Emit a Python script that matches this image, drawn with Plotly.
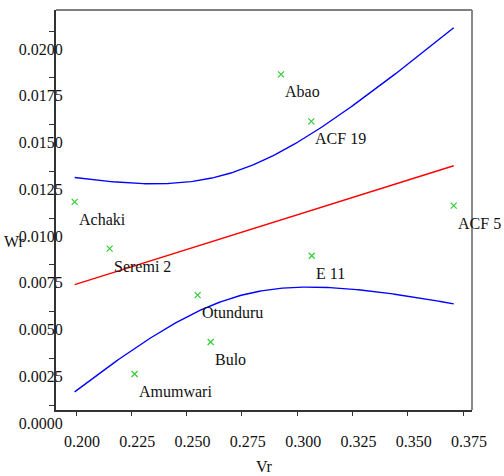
import numpy as np
import plotly.graph_objects as go

# Data
names = ["Achaki", "Seremi 2", "Amumwari", "Otunduru", "Bulo", "Abao", "ACF 19", "E 11", "ACF 5"]
vr = [0.1994, 0.2152, 0.2265, 0.2550, 0.2609, 0.2927, 0.3064, 0.3066, 0.3708]
wr = [0.01086, 0.00836, 0.00166, 0.00588, 0.00337, 0.01768, 0.01517, 0.00798, 0.01066]

x_ticks = [0.200, 0.225, 0.250, 0.275, 0.300, 0.325, 0.350, 0.375]
y_ticks = [0.0000, 0.0025, 0.0050, 0.0075, 0.0100, 0.0125, 0.0150, 0.0175, 0.0200]

# Least squares fit and 95% confidence band of the mean (derived from the data)
X = np.array(vr)
Y = np.array(wr)
n = len(X)
b1, b0 = np.polyfit(X, Y, 1)
resid = Y - (b0 + b1 * X)
s = np.sqrt(np.sum(resid ** 2) / (n - 2))
sxx = np.sum((X - X.mean()) ** 2)
xs = np.linspace(X.min(), X.max(), 200)
fit = b0 + b1 * xs
se = s * np.sqrt(1.0 / n + (xs - X.mean()) ** 2 / sxx)
upper = fit + 1.96 * se
lower = fit - 1.96 * se

SERIF = "Liberation Serif"
TXT = "#111"

fig = go.Figure()
fig.add_trace(go.Scatter(x=xs, y=upper, mode="lines", line=dict(color="#0000ff", width=1.4),
                         hoverinfo="skip", showlegend=False))
fig.add_trace(go.Scatter(x=xs, y=lower, mode="lines", line=dict(color="#0000ff", width=1.4),
                         hoverinfo="skip", showlegend=False))
fig.add_trace(go.Scatter(x=xs, y=fit, mode="lines", line=dict(color="#ff0000", width=1.4),
                         hoverinfo="skip", showlegend=False))
fig.add_trace(go.Scatter(x=vr, y=wr, mode="markers", text=names,
                         marker=dict(symbol="x-thin", size=6,
                                     line=dict(color="#33cc33", width=1.2), color="#33cc33"),
                         showlegend=False))

for nm, xv, yv in zip(names, vr, wr):
    fig.add_annotation(x=xv, y=yv, text=nm, showarrow=False, xanchor="left", yanchor="middle",
                       xshift=2, yshift=-17.5, font=dict(family=SERIF, size=16, color=TXT))

fig.add_annotation(xref="paper", yref="paper", x=-0.1, y=(410 - 241) / 400.0, text="Wr",
                   showarrow=False, xanchor="center", yanchor="middle",
                   font=dict(family=SERIF, size=16, color=TXT))
fig.add_annotation(xref="paper", yref="paper", x=0.5, y=-(466.7 - 410) / 400.0, text="Vr",
                   showarrow=False, xanchor="center", yanchor="middle",
                   font=dict(family=SERIF, size=16, color=TXT))

# top and right frame lines
fig.add_shape(type="line", xref="paper", yref="paper", x0=0, x1=1, y0=1, y1=1,
              line=dict(color="#555", width=1.6))
fig.add_shape(type="line", xref="paper", yref="paper", x0=1, x1=1, y0=0, y1=1,
              line=dict(color="#888", width=2))

fig.update_layout(
    width=504, height=476,
    margin=dict(l=56, r=32, t=10, b=66),
    paper_bgcolor="white", plot_bgcolor="white",
    font=dict(family=SERIF, size=16, color=TXT),
    xaxis=dict(range=[0.190956, 0.379072], tickvals=x_ticks, tickformat=".3f",
               showgrid=False, zeroline=False, showline=True, linecolor="#333", linewidth=2,
               ticks="outside", ticklen=4, tickcolor="#333", tickwidth=1.2,
               ticklabelshift=6, ticklabelstandoff=12,
               tickfont=dict(family=SERIF, size=16, color=TXT)),
    yaxis=dict(range=[-0.000267, 0.021123], tickvals=y_ticks, tickformat=".4f",
               showgrid=False, zeroline=False, showline=True, linecolor="#333", linewidth=2,
               ticks="outside", ticklen=5, tickcolor="#333", tickwidth=1.2,
               ticklabelshift=18, ticklabelstandoff=-17,
               tickfont=dict(family=SERIF, size=16, color=TXT)),
)

fig.write_html("out.html")
